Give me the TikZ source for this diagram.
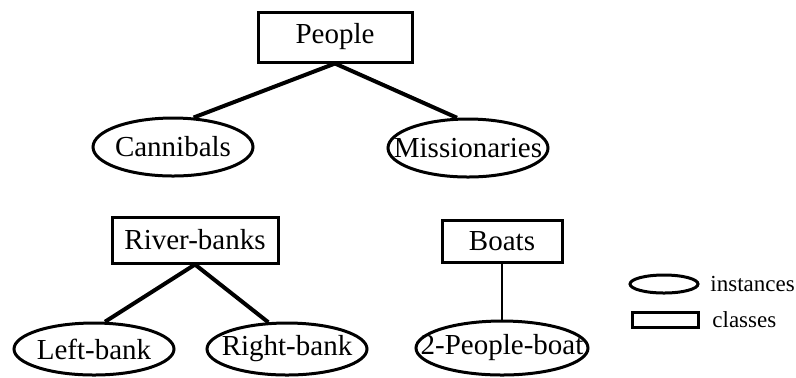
\documentclass[tikz,border=0pt]{standalone}
\usepackage{fontspec}
\setmainfont{Liberation Serif}
\usetikzlibrary{shapes.geometric}
\newcommand{\ovaltext}[1]{\makebox[0pt]{#1}}
\begin{document}
\begin{tikzpicture}[x=0.5pt,y=-0.5pt]
\tikzstyle{class}=[draw,rectangle,line width=1.5pt,inner sep=0pt,minimum height=23pt,font=\fontsize{14.5}{17}\selectfont]
\tikzstyle{instance}=[draw,ellipse,line width=1.5pt,inner sep=0pt,minimum width=80pt,minimum height=29pt,font=\fontsize{14.5}{17}\selectfont]
\tikzstyle{link}=[line width=2pt]
\tikzstyle{legend}=[anchor=west,inner sep=0pt,font=\fontsize{11.5}{14}\selectfont]
\useasboundingbox (0,0) rectangle (796,377);
\node[class,minimum width=77pt,minimum height=25pt] (people) at (335,37) {People};
\node[instance] (cannibals) at (173,147) {\ovaltext{Cannibals}};
\node[instance] (missionaries) at (468,148) {\ovaltext{Missionaries}};
\node[class,minimum width=83pt] (banks) at (195,240) {River-banks};
\node[class,minimum width=60pt,minimum height=21pt] (boats) at (502,241) {Boats};
\node[instance,minimum height=26pt] (leftbank) at (94,349) {\ovaltext{Left-bank}};
\node[instance,minimum height=26pt] (rightbank) at (287,349) {\ovaltext{Right-bank}};
\node[instance,minimum width=86pt,minimum height=27pt] (boat) at (502,348) {\ovaltext{2-People-boat}};
\node[draw,ellipse,line width=1.5pt,inner sep=0pt,minimum width=34pt,minimum height=9pt] (keyinst) at (664,284) {};
\node[draw,rectangle,line width=1.5pt,inner sep=0pt,minimum width=33pt,minimum height=7.5pt] (keyclass) at (665,320) {};
\node[legend] (instlabel) at (710,284) {instances};
\node[legend] (classlabel) at (712,320) {classes};
\draw[link] (people.south) -- (cannibals.55);
\draw[link] (people.south) -- (missionaries.110);
\draw[link] (banks.south) -- (leftbank.68);
\draw[link] (banks.south) -- (rightbank.125);
\draw[line width=1.2pt] (boats.south) -- (boat.north);
\end{tikzpicture}
\end{document}
